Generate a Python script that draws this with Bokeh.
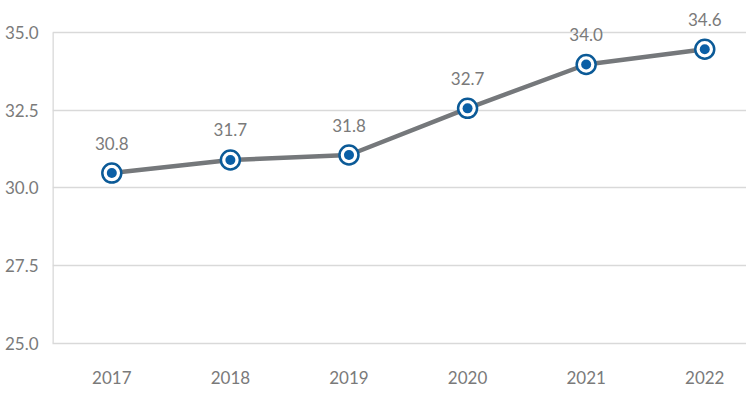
from bokeh.plotting import figure
from bokeh.models import ColumnDataSource, Range1d, FixedTicker, LabelSet, NumeralTickFormatter
from bokeh.core.properties import value
from bokeh.embed import file_html
from bokeh.resources import INLINE

years = ["2017", "2018", "2019", "2020", "2021", "2022"]
values = [30.48, 30.9, 31.06, 32.56, 33.97, 34.46]
labels = ["30.8", "31.7", "31.8", "32.7", "34.0", "34.6"]
y_ticks = [25.0, 27.5, 30.0, 32.5, 35.0]
y_min, y_max = 25.0, 35.0

xs = list(range(len(years)))
src = ColumnDataSource(dict(x=xs, y=values, lab=labels))

FONT = "Lato"
GRAY = "#7a7a7a"
GRID = "#d9d9d9"

p = figure(width=746, height=388, output_backend="svg", toolbar_location=None,
           x_range=Range1d(-0.5, 5.352), y_range=Range1d(y_min, y_max + 0.77),
           min_border_left=52, min_border_right=0, min_border_top=8, min_border_bottom=45)
p.outline_line_color = None
p.background_fill_color = "white"
p.border_fill_color = "white"

p.xgrid.grid_line_color = None
p.ygrid.grid_line_color = GRID
p.ygrid.grid_line_width = 1.3

p.yaxis.ticker = FixedTicker(ticks=y_ticks)
p.yaxis.formatter = NumeralTickFormatter(format="0.0")
p.yaxis.axis_line_color = None
p.yaxis.major_tick_line_color = None
p.yaxis.minor_tick_line_color = None
p.yaxis.major_label_text_font = FONT
p.yaxis.major_label_text_font_size = "17px"
p.yaxis.major_label_text_color = GRAY
p.yaxis.major_label_standoff = 8

p.xaxis.ticker = FixedTicker(ticks=xs)
p.xaxis.major_label_overrides = {i: y for i, y in zip(xs, years)}
p.xaxis.axis_line_color = GRID
p.xaxis.axis_line_width = 1.3
p.xaxis.major_tick_line_color = None
p.xaxis.minor_tick_line_color = None
p.xaxis.major_label_text_font = FONT
p.xaxis.major_label_text_font_size = "17px"
p.xaxis.major_label_text_color = GRAY
p.xaxis.major_label_standoff = 21

# vertical value-axis line spanning only the tick range
p.segment(x0=[-0.5], y0=[y_min], x1=[-0.5], y1=[y_max], line_color=GRID, line_width=2.6)

p.line("x", "y", source=src, line_color="#75787b", line_width=4.5)
p.scatter("x", "y", source=src, size=19, fill_color="white", line_color="#0b5a97", line_width=2.5)
p.scatter("x", "y", source=src, size=10, fill_color="#0a5fa6", line_color=None)

ls = LabelSet(x="x", y="y", text="lab", source=src, y_offset=30, text_align="center",
              text_baseline="middle", text_font=value(FONT), text_font_size=value("17px"),
              text_color=GRAY)
p.add_layout(ls)

open("out.html", "w").write(file_html(p, INLINE))
